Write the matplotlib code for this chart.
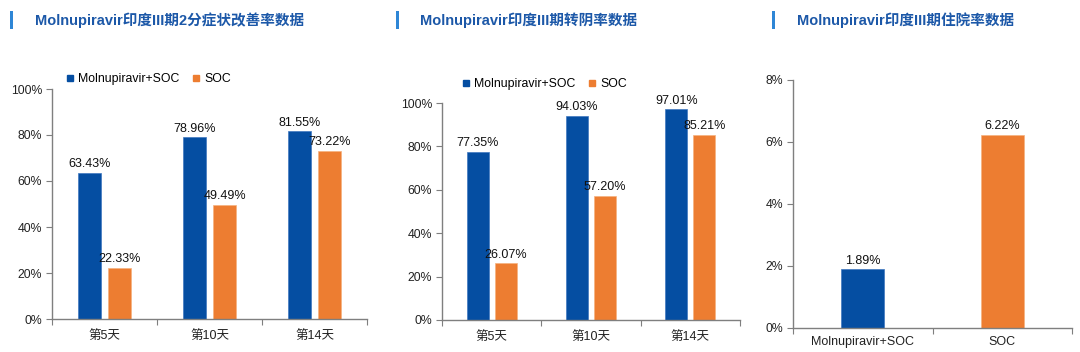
import matplotlib
matplotlib.use("Agg")
import matplotlib.pyplot as plt
from matplotlib.lines import Line2D
from matplotlib.patches import Rectangle
from matplotlib.ticker import FixedLocator, NullFormatter, FixedFormatter

plt.rcParams['font.family'] = ['Liberation Sans', 'Noto Sans CJK SC', 'DejaVu Sans']

# ---- data ----
titles = ["Molnupiravir印度III期2分症状改善率数据",
          "Molnupiravir印度III期转阴率数据",
          "Molnupiravir印度III期住院率数据"]
days = ["第5天", "第10天", "第14天"]
series_names = ["Molnupiravir+SOC", "SOC"]
improve_mol = [63.43, 78.96, 81.55]
improve_soc = [22.33, 49.49, 73.22]
negative_mol = [77.35, 94.03, 97.01]
negative_soc = [26.07, 57.20, 85.21]
hosp_groups = ["Molnupiravir+SOC", "SOC"]
hosp_values = [1.89, 6.22]
ticks_12 = [0, 20, 40, 60, 80, 100]
ticks_3 = [0, 2, 4, 6, 8]

BLUE = "#054EA2"
ORANGE = "#ED7D31"
TITLE_C = "#1C58A8"
ACCENT = "#2E86D6"
SPINE = "#7f7f7f"

W, H = 1080, 352
fig = plt.figure(figsize=(W / 100, H / 100), dpi=100)


def px_axes(x0, y0, x1, y1):
    return fig.add_axes([x0 / W, (H - y1) / H, (x1 - x0) / W, (y1 - y0) / H])


def style(ax, n, labels, yticks, ylabels_fmt, xpad=8):
    for s in ["top", "right"]:
        ax.spines[s].set_visible(False)
    for s in ["left", "bottom"]:
        ax.spines[s].set_color(SPINE)
        ax.spines[s].set_linewidth(1.0)
    ax.set_xlim(-0.5, n - 0.5)
    ax.xaxis.set_major_locator(FixedLocator([i - 0.5 for i in range(n + 1)]))
    ax.xaxis.set_major_formatter(NullFormatter())
    ax.xaxis.set_minor_locator(FixedLocator(list(range(n))))
    ax.xaxis.set_minor_formatter(FixedFormatter(labels))
    ax.tick_params(axis="x", which="major", length=4, color=SPINE, direction="out")
    ax.tick_params(axis="x", which="minor", length=0, pad=xpad, labelsize=9, labelcolor="#222222")
    ax.set_yticks(yticks)
    ax.set_yticklabels([ylabels_fmt(v) for v in yticks])
    ax.tick_params(axis="y", length=4, color=SPINE, direction="out", labelsize=8.8,
                   labelcolor="#222222", pad=3)


def label_bars(ax, bars, vals):
    for b, v in zip(bars, vals):
        ax.annotate(f"{v:.2f}%", (b.get_x() + b.get_width() / 2, b.get_height()),
                    xytext=(0, 2), textcoords="offset points", ha="center", va="bottom",
                    fontsize=9, color="#111111")


def grouped(ax, a, b, width, off):
    x = range(len(days))
    b1 = ax.bar([i - off for i in x], a, width, color=BLUE, edgecolor="#3f78c0", linewidth=0.5)
    b2 = ax.bar([i + off for i in x], b, width, color=ORANGE, edgecolor="#f6b27f", linewidth=0.5)
    ax.set_ylim(0, 100)
    style(ax, len(days), days, ticks_12, lambda v: f"{v}%")
    label_bars(ax, b1, a)
    label_bars(ax, b2, b)


# Panel 1
ax1 = px_axes(52, 89, 367, 319)
grouped(ax1, improve_mol, improve_soc, 0.225, 0.143)

# Panel 2
ax2 = px_axes(442, 103, 740, 320)
grouped(ax2, negative_mol, negative_soc, 0.22, 0.14)

# Panel 3
ax3 = px_axes(793, 80, 1072, 328)
b3 = ax3.bar(range(len(hosp_groups)), hosp_values, 0.31, color=[BLUE, ORANGE],
             edgecolor=["#3f78c0", "#f6b27f"], linewidth=0.5)
ax3.set_ylim(0, 8)
style(ax3, len(hosp_groups), hosp_groups, ticks_3, lambda v: f"{v}%", xpad=6)
label_bars(ax3, b3, hosp_values)

# Legends
handles = [Line2D([], [], marker="s", linestyle="none", markersize=4, color=c)
           for c in (BLUE, ORANGE)]
for (lx, ly) in [(66, 79), (462, 84)]:
    fig.legend(handles, series_names, loc="center left",
               bbox_to_anchor=(lx / W, (H - ly) / H), ncol=2, frameon=False,
               fontsize=8.8, handlelength=0.6, handletextpad=0.35, columnspacing=1.1,
               borderpad=0, borderaxespad=0)

# Titles and accent bars
for (bx, tx, t) in [(10, 35, titles[0]), (396, 420, titles[1]), (772, 797, titles[2])]:
    fig.add_artist(Rectangle((bx / W, (H - 29) / H), 2.5 / W, 18 / H,
                             transform=fig.transFigure, color=ACCENT, lw=0))
    fig.text(tx / W, (H - 20) / H, t, ha="left", va="center", fontsize=10.5,
             fontweight="bold", color=TITLE_C)

fig.savefig("out.png", dpi=100)
